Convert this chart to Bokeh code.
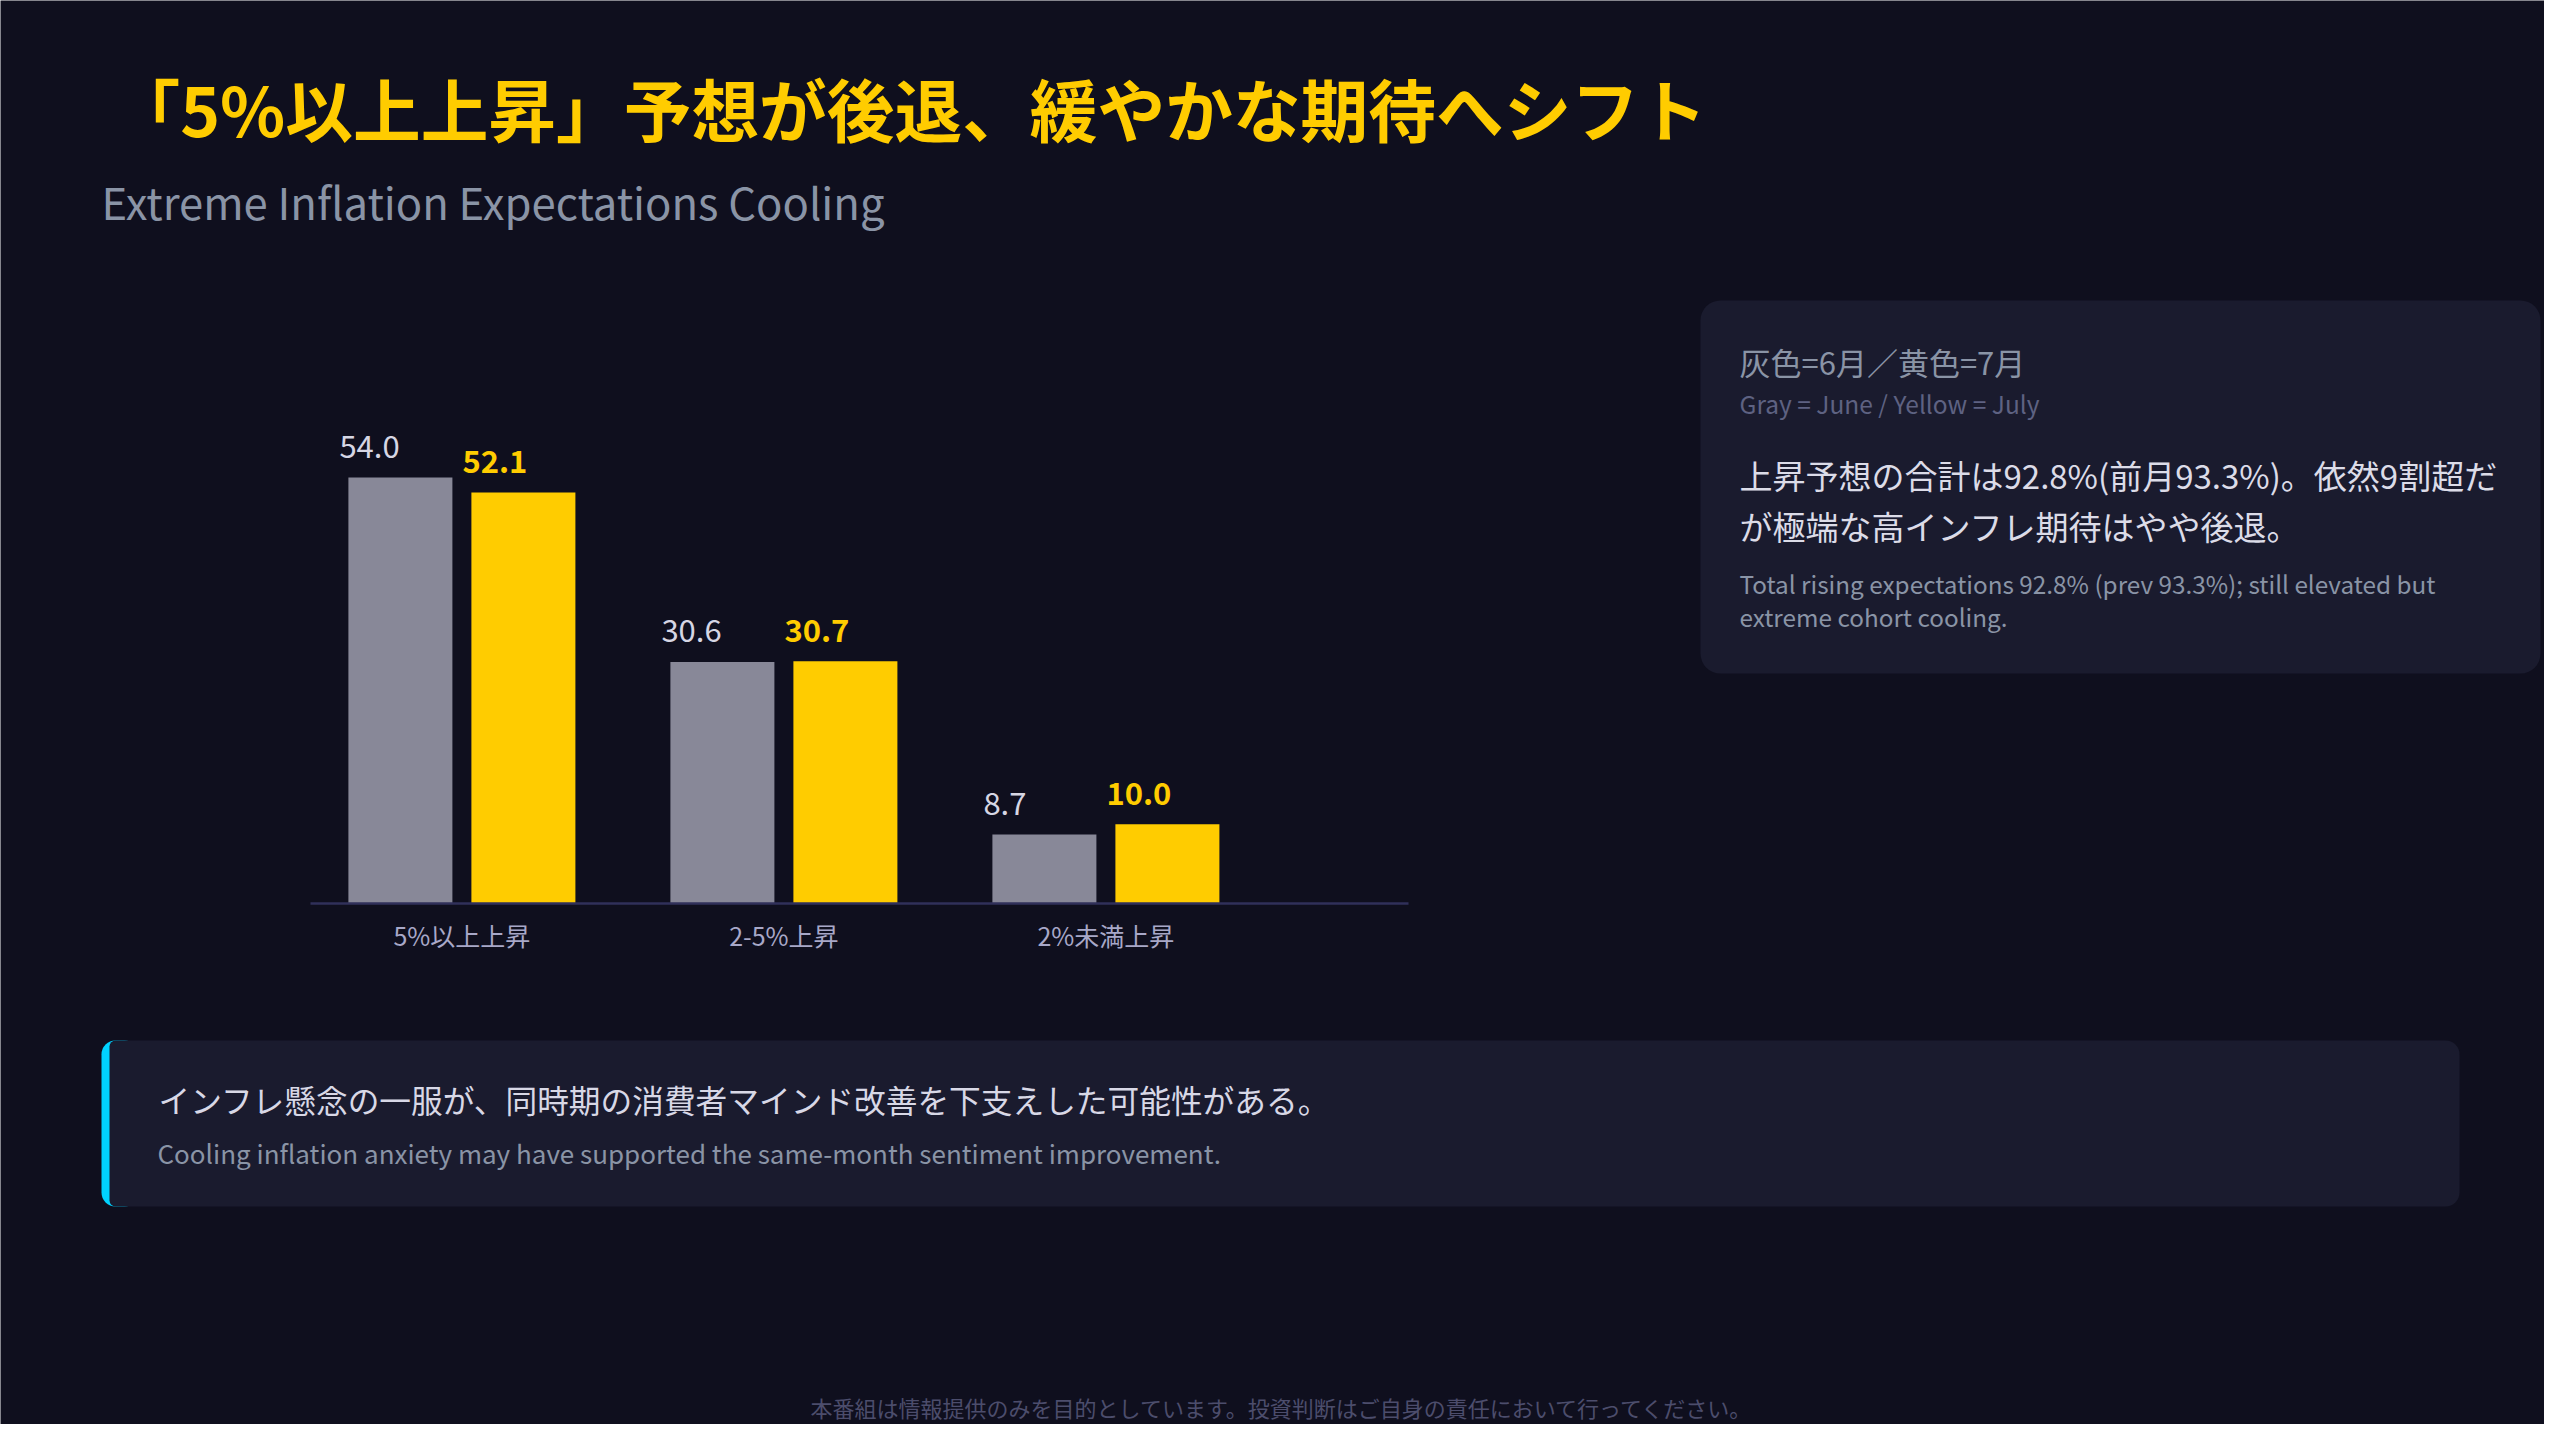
import numpy as np
from bokeh.plotting import figure
from bokeh.models import Label, BoxAnnotation, FixedTicker, Range1d, ColumnDataSource
from bokeh.core.properties import value
from bokeh.embed import file_html
from bokeh.resources import INLINE

# data
categories = ["5%以上上昇", "2-5%上昇", "2%未満上昇"]
june = [54.0, 30.6, 8.7]
july = [52.1, 30.7, 10.0]

BG = "#0f0f1e"
PANEL = "#1a1b2e"
CYAN = "#00d2ff"
YELLOW = "#ffcc00"
GRAY_BAR = "#888898"
MUTED = "#8a94a6"
FONT = "Noto Sans CJK JP"

W, H = 2544, 1424

# where the bar chart sits on the canvas (pixels from top-left)
GROUP0_X = 461.4     # centre of first category
GROUP_PX = 322.0     # pixels between categories
BASE_Y = 902.7       # baseline
UNIT_PX = 7.885      # pixels per percentage point
AXIS_L, AXIS_R = 310, 1408

x_start = -GROUP0_X / GROUP_PX
x_end = (W - GROUP0_X) / GROUP_PX
y_start = -(H - BASE_Y) / UNIT_PX
y_end = BASE_Y / UNIT_PX

p = figure(width=W, height=H, x_range=Range1d(x_start, x_end), y_range=Range1d(y_start, y_end),
           output_backend="svg", toolbar_location=None, y_axis_location=None, min_border=0)
p.background_fill_color = BG
p.border_fill_color = BG
p.outline_line_color = None
p.grid.grid_line_color = None


def put(x, y_top, text, size, color, style="normal", align="left"):
    p.add_layout(Label(x=x, y=H - y_top, x_units="screen", y_units="screen", text=text,
                       text_font=FONT, text_font_size=f"{size}px", text_color=color,
                       text_font_style=style, text_baseline="middle", text_align=align))


def put_latin(x, baseline, text, size, color):
    # middle of the em box sits ~0.38em above the alphabetic baseline
    put(x, baseline - 0.38 * size, text, size, color)


def box(left, right, top, bottom, color, radius):
    p.add_layout(BoxAnnotation(left=left, right=right, top=H - top, bottom=H - bottom,
                               left_units="screen", right_units="screen",
                               top_units="screen", bottom_units="screen",
                               fill_color=color, fill_alpha=1.0, line_color=None,
                               border_radius=radius))


### bars ###
x = np.arange(len(categories))
off = 0.191
bw = 0.323
src = ColumnDataSource(dict(
    xj=x - off, xy=x + off,
    lj=x - off - bw / 2, ly=x + off - bw / 2,
    june=june, july=july,
    tj=[f"{v:.1f}" for v in june], ty=[f"{v:.1f}" for v in july],
))

p.vbar(x="xj", top="june", bottom=0, width=bw, source=src, fill_color=GRAY_BAR, line_color=None)
p.vbar(x="xy", top="july", bottom=0, width=bw, source=src, fill_color=YELLOW, line_color=None)

p.text(x="lj", y="june", text="tj", source=src, text_font=value(FONT), text_font_size="31px",
       text_color="#d6d6e4", text_align="left", text_baseline="middle",
       x_offset=-9, y_offset=-31)
p.text(x="ly", y="july", text="ty", source=src, text_font=value(FONT), text_font_size="31px",
       text_font_style="bold", text_color=YELLOW, text_align="left", text_baseline="middle",
       x_offset=-9, y_offset=-31)

xa = p.xaxis[0]
xa.fixed_location = 0
xa.bounds = ((AXIS_L - GROUP0_X) / GROUP_PX, (AXIS_R - GROUP0_X) / GROUP_PX)
xa.ticker = FixedTicker(ticks=[int(i) for i in x])
xa.major_label_overrides = {int(i): c for i, c in zip(x, categories)}
xa.axis_line_color = "#30305a"
xa.axis_line_width = 2.5
xa.major_tick_line_color = None
xa.minor_tick_line_color = None
xa.major_tick_out = 0
xa.major_tick_in = 0
xa.major_label_standoff = 14
xa.major_label_text_font = FONT
xa.major_label_text_font_size = "25px"
xa.major_label_text_color = "#a8a8c8"

### header ###
put(112, 106, "「5%以上上昇」予想が後退、緩やかな期待へシフト", 67.7, YELLOW, style="bold")
put_latin(101, 216.7, "Extreme Inflation Expectations Cooling", 43.6, MUTED)

### side panel ###
box(1700, 2540, 300, 673, PANEL, 20)
put(1739, 361, "灰色=6月／黄色=7月", 31, MUTED)
put_latin(1739, 412, "Gray = June / Yellow = July", 24.5, "#5e6282")
put(1739, 474, "上昇予想の合計は92.8%(前月93.3%)。依然9割超だ", 33, "#dcdce8")
put(1739, 525, "が極端な高インフレ期待はやや後退。", 33, "#dcdce8")
put_latin(1739, 592, "Total rising expectations 92.8% (prev 93.3%); still elevated but", 24.3, MUTED)
put_latin(1739, 625, "extreme cohort cooling.", 24.3, MUTED)

### bottom note ###
box(101, 138, 1040, 1206, CYAN, 14)
box(109, 2459, 1040, 1206, PANEL, (6, 14, 14, 6))
put(158, 1098, "インフレ懸念の一服が、同時期の消費者マインド改善を下支えした可能性がある。", 31.7, "#d8d8e6")
put_latin(157, 1162, "Cooling inflation anxiety may have supported the same-month sentiment improvement.", 26, MUTED)
put(1282, 1406, "本番組は情報提供のみを目的としています。投資判断はご自身の責任において行ってください。", 22, "#4c4d6c", align="center")

open("out.html", "w", encoding="utf-8").write(file_html(p, INLINE, title="Extreme Inflation Expectations Cooling"))
